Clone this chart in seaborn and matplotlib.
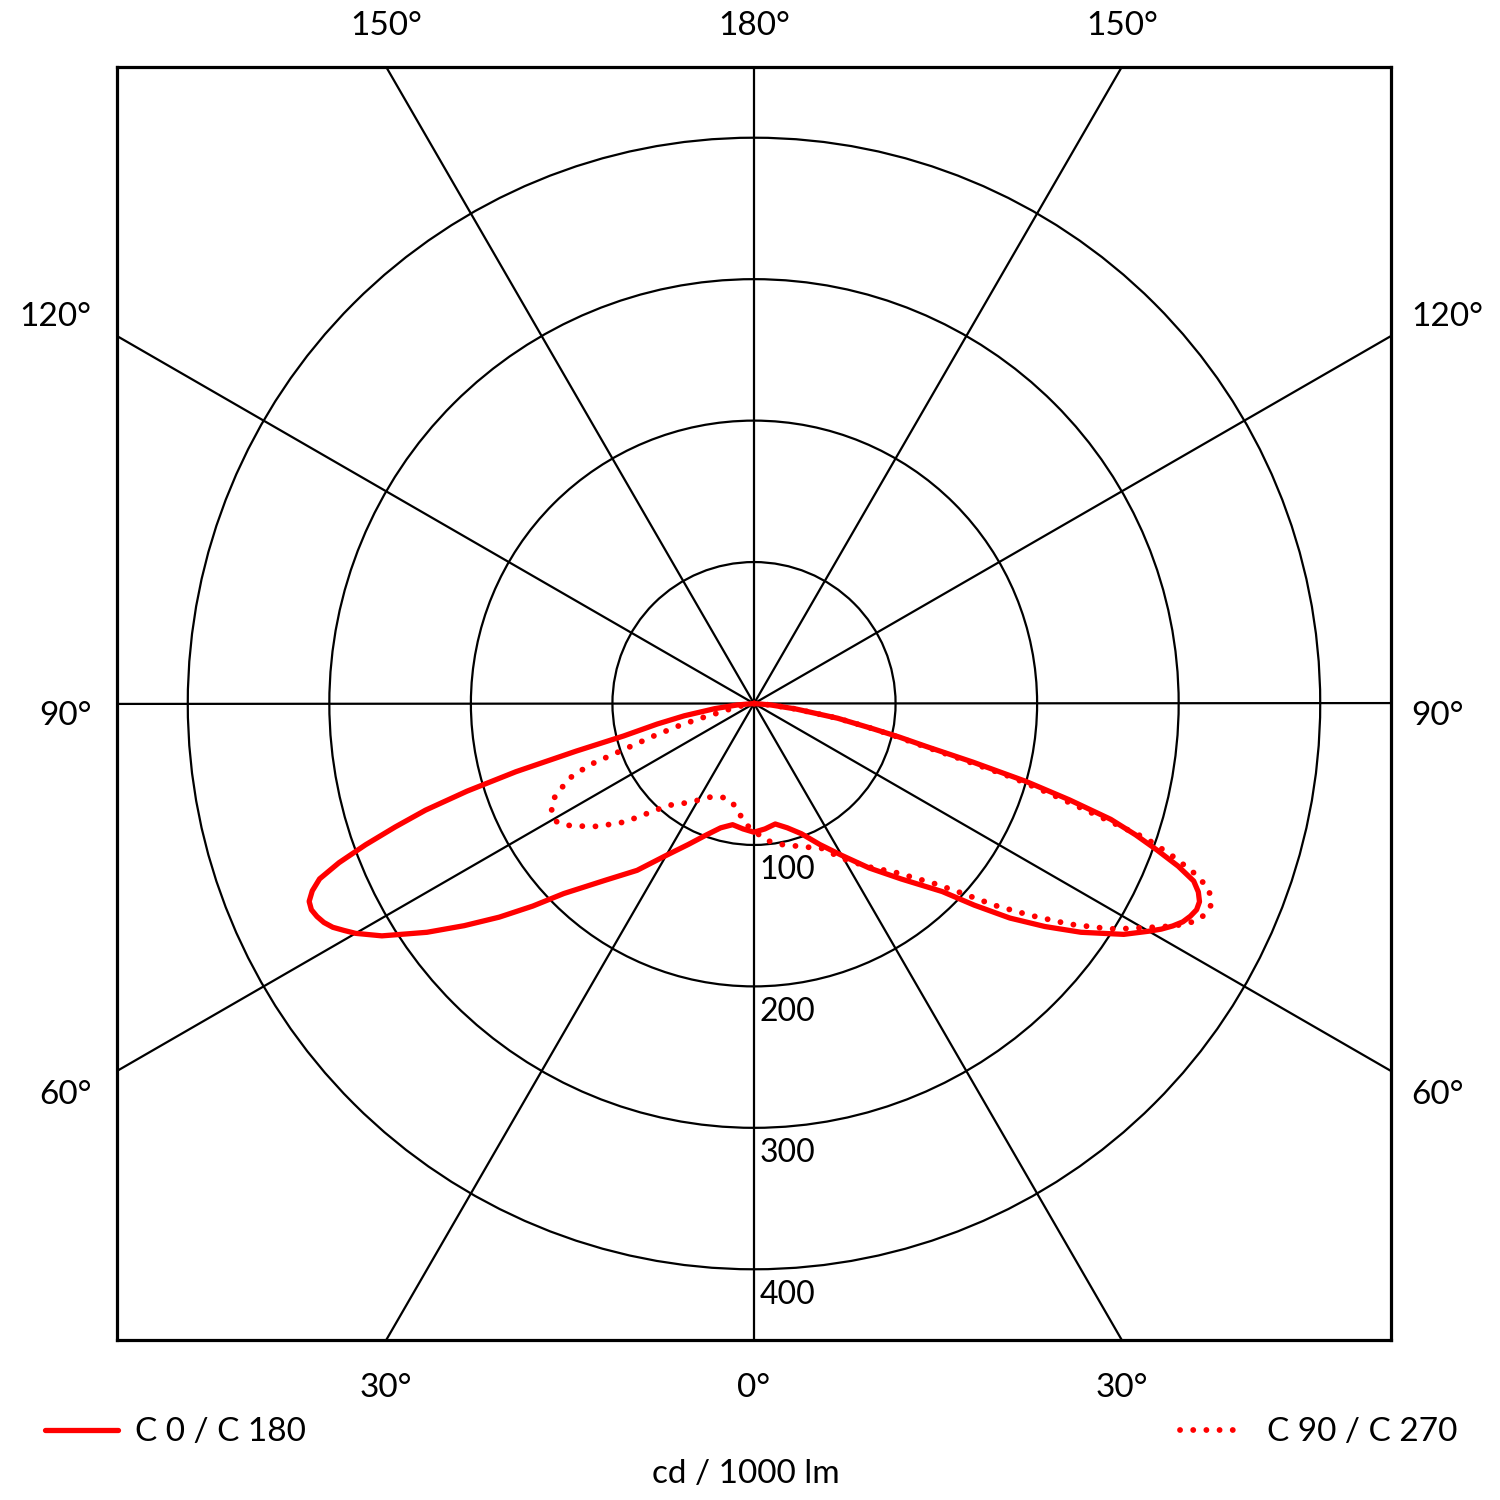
import numpy as np
import pandas as pd
import matplotlib
matplotlib.use("Agg")
import matplotlib.pyplot as plt
from matplotlib.patches import Circle
from matplotlib.lines import Line2D
import seaborn as sns

# Luminous intensity (cd / 1000 lm), by gamma angle
gamma_c0 = [0, 5, 10, 15, 20, 25, 30, 35, 40, 45, 47.5, 50, 52.5, 55, 58, 60, 61,
            62, 63, 64, 65, 66, 67, 68, 69, 70, 71, 72, 73, 74, 75, 76, 77, 78,
            80, 82.5, 85, 90]
cd_c0 = [91, 89, 86.5, 91, 98, 110, 124, 142, 162, 188, 211, 236, 259, 282, 308,
         322, 329, 335, 340, 343, 345, 344.5, 341, 335, 321, 303, 285, 265, 233,
         200, 160, 125, 105, 86, 60, 30, 12, 0]

gamma_c180 = [0, 5, 10, 15, 20, 25, 30, 35, 40, 45, 47.5, 50, 52.5, 55, 57, 58,
              60, 61, 62, 63, 64, 65, 66, 67, 68, 69, 70, 71, 72, 73, 74, 75, 76,
              78, 80, 82.5, 85, 90]
cd_c180 = [91, 89, 87, 91, 99, 110, 124, 144, 163, 190, 212, 235, 258, 282, 300,
           310, 325, 331, 337, 341, 343.5, 345, 344, 339, 331, 314, 292, 268, 244,
           212, 175, 130, 95, 70, 50, 28, 12, 0]

gamma_c90 = [0, 5, 10, 15, 20, 25, 30, 35, 40, 45, 47.5, 50, 52.5, 55, 57, 58,
             60, 61, 62, 63, 64, 65, 66, 67, 68, 69, 70, 71, 72, 73, 74, 75, 76,
             77, 78, 80, 82.5, 85, 90]
cd_c90 = [90, 97, 101, 104, 108, 113, 127, 141, 156, 180, 198, 222, 246, 272,
          291, 301, 317, 326, 335, 343, 349, 352, 353, 351, 345, 332, 314, 293,
          252, 220, 190, 150, 120, 102, 86, 60, 30, 12, 0]

gamma_c270 = [0, 3.5, 7, 10, 12.5, 15, 19, 25, 30, 35, 40, 42.5, 45, 47.5, 50,
              52.5, 55, 57, 59, 60.5, 62, 63, 64.5, 66, 68, 69.5, 70.5, 72, 73.5,
              74.5, 75.5, 77, 80, 85, 90]
cd_c270 = [90, 86, 79.5, 74, 72, 70, 70, 73, 79, 86, 94, 102, 112, 124, 133, 143,
           151, 158, 162.5, 163, 162, 160, 157, 150, 140, 124, 98, 75, 55, 40, 25,
           17, 8, 3, 0]

rings = [100, 200, 300, 400]
spokes = [0, 30, 60, 90, 120, 150]
top_labels = ["150°", "180°", "150°"]
bottom_labels = ["30°", "0°", "30°"]
side_labels = ["120°", "90°", "60°"]
RED = "#ff0000"


def half(gamma, cd, side):
    g = np.radians(gamma)
    cd = np.asarray(cd, dtype=float)
    return pd.DataFrame({"x": side * cd * np.sin(g), "y": -cd * np.cos(g)})


# left half runs from 90 down to 0, then the right half from 0 up to 90
solid = pd.concat([half(gamma_c180, cd_c180, -1).iloc[::-1],
                   half(gamma_c0, cd_c0, 1)], ignore_index=True)
dotted = pd.concat([half(gamma_c270, cd_c270, -1).iloc[::-1],
                    half(gamma_c90, cd_c90, 1)], ignore_index=True)

sns.set_style("white")
plt.rcParams["font.family"] = ["Lato", "DejaVu Sans"]
plt.rcParams["text.color"] = "black"

fig = plt.figure(figsize=(15, 15), dpi=100)
ax = fig.add_axes([117 / 1500, 160 / 1500, 1274 / 1500, 1273 / 1500])
ax.set_xlim(-450, 450)
ax.set_ylim(-450, 450)
ax.set_xticks([])
ax.set_yticks([])
for sp in ax.spines.values():
    sp.set_color("black")
    sp.set_linewidth(2.3)
    sp.set_zorder(5)

# grid: rings and spokes
for r in rings:
    ax.add_patch(Circle((0, 0), r, fill=False, ec="black", lw=1.6, zorder=1))
    ax.text(4, -(r + 18), str(r), ha="left", va="center", fontsize=23, zorder=4)
for a in spokes:
    t = np.radians(a)
    ax.plot([-700 * np.sin(t), 700 * np.sin(t)], [-700 * np.cos(t), 700 * np.cos(t)],
            color="black", lw=1.6, zorder=1)

sns.lineplot(data=solid, x="x", y="y", sort=False, estimator=None, ax=ax,
             color=RED, lw=3.8, zorder=3, solid_capstyle="round",
             solid_joinstyle="round")
sns.lineplot(data=dotted, x="x", y="y", sort=False, estimator=None, ax=ax,
             color=RED, lw=4.2, zorder=3, linestyle=(0, (0.01, 2.25)),
             dash_capstyle="round")
ax.set_xlabel("")
ax.set_ylabel("")

# angle labels around the frame
for xp, lab in zip([-260, 0, 260], top_labels):
    ax.text(xp, 479, lab, ha="center", va="center", fontsize=24, clip_on=False)
for xp, lab in zip([-260, 0, 260], bottom_labels):
    ax.text(xp, -484, lab, ha="center", va="center", fontsize=24, clip_on=False)
for yp, lab in zip([273, -9, -277], side_labels):
    ax.text(-468, yp, lab, ha="right", va="center", fontsize=24, clip_on=False)
    ax.text(464, yp, lab, ha="left", va="center", fontsize=24, clip_on=False)

# legend and unit
fig.add_artist(Line2D([45 / 1500, 118 / 1500], [70 / 1500, 70 / 1500],
                      color=RED, lw=3.8, solid_capstyle="round"))
fig.text(135 / 1500, 68 / 1500, "C 0 / C 180", ha="left", va="center", fontsize=24)
fig.add_artist(Line2D([1180 / 1500, 1240 / 1500], [70 / 1500, 70 / 1500],
                      color=RED, lw=4.2, linestyle=(0, (0.01, 2.25)),
                      dash_capstyle="round"))
fig.text(1267 / 1500, 68 / 1500, "C 90 / C 270", ha="left", va="center", fontsize=24)
fig.text(746 / 1500, 26 / 1500, "cd / 1000 lm", ha="center", va="center", fontsize=24)

fig.savefig("out.png", dpi=100, facecolor="white")
